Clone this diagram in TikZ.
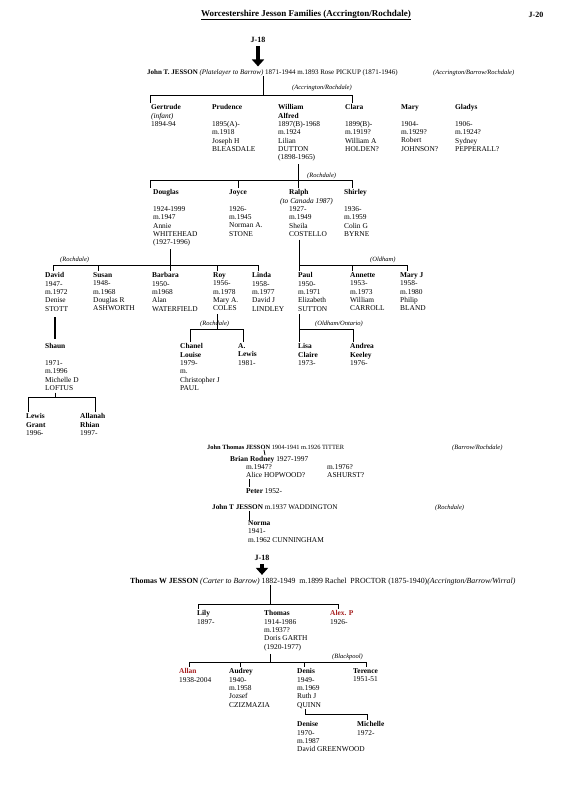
\documentclass[tikz,border=0pt]{standalone}
\usepackage{fontspec}
\setmainfont{Liberation Serif}
\usetikzlibrary{arrows.meta}
\definecolor{famred}{RGB}{165,30,30}

\begin{document}
\begin{tikzpicture}[x=1pt,y=-1pt,
  person/.style={anchor=north west,align=left,inner sep=0pt,font=\fontsize{7.4}{8.3}\selectfont},
  oneline/.style={anchor=base west,inner sep=0pt,font=\fontsize{7.4}{8.3}\selectfont},
  where/.style={anchor=base west,inner sep=0pt,font=\fontsize{6.5}{8}\selectfont\itshape},
  jref/.style={inner sep=0pt,font=\fontsize{8}{9}\selectfont\bfseries},
  tie/.style={line width=0.8pt},
  heavytie/.style={line width=1.8pt},
  bigarrow/.style={line width=4.5pt,-{Triangle[width=12pt,length=7pt]}}]
  \useasboundingbox (0,0) rectangle (567,793);
  % heading
  \node[jref,font=\fontsize{9}{10}\selectfont\bfseries] (title) at (306,15) {\underline{Worcestershire Jesson Families (Accrington/Rochdale)}};
  \node[jref] (j20) at (536,15) {J-20};
  \node[jref] (j18a) at (258,40) {J-18};
  \node[oneline,font=\fontsize{7}{8}\selectfont] (johnT) at (147,74.5)
    {\textbf{John T. JESSON} \textit{(Platelayer to Barrow)} 1871-1944 m.1893 Rose PICKUP (1871-1946)};
  \node[where] (accbr) at (433,74.5) {(Accrington/Barrow/Rochdale)};
  \draw[bigarrow] ([yshift=-3pt]j18a.south) -- ([yshift=3pt]j18a.south |- johnT.north);
  % children of John T.
  \coordinate (jn1) at (263,95);
  \node[where] (accroch) at (292,89) {(Accrington/Rochdale)};
  \node[person] (gertrude) at (151,104.5) {\textbf{Gertrude}\\\textit{(infant)}\\1894-94};
  \node[person] (prudence) at (212,104.5) {\textbf{Prudence}\\[8.3pt]1895(A)-\\m.1918\\Joseph H\\BLEASDALE};
  \node[person] (william) at (278,104.5) {\textbf{William}\\\textbf{Alfred}\\1897(B)-1968\\m.1924\\Lilian\\DUTTON\\(1898-1965)};
  \node[person] (clara) at (345,104.5) {\textbf{Clara}\\[8.3pt]1899(B)-\\m.1919?\\William A\\HOLDEN?};
  \node[person] (mary) at (401,104.5) {\textbf{Mary}\\[8.3pt]1904-\\m.1929?\\Robert\\JOHNSON?};
  \node[person] (gladys) at (455,104.5) {\textbf{Gladys}\\[8.3pt]1906-\\m.1924?\\Sydney\\PEPPERALL?};
  \draw[tie] (johnT.south -| jn1) -- (jn1);
  \draw[tie] ([xshift=-1pt,yshift=2pt]gertrude.north west) |- (jn1);
  \draw[tie] ([xshift=7pt,yshift=2pt]clara.north west) |- (jn1);
  % children of William Alfred
  \coordinate (jn2) at (298,180);
  \node[where] (roch1) at (307,177) {(Rochdale)};
  \node[person] (douglas) at (153,189.5) {\textbf{Douglas}\\[8.3pt]1924-1999\\m.1947\\Annie\\WHITEHEAD\\(1927-1996)};
  \node[person] (joyce) at (229,189.5) {\textbf{Joyce}\\[8.3pt]1926-\\m.1945\\Norman A.\\STONE};
  \node[person] (ralph) at (289,189.5) {\textbf{Ralph}\\\hspace*{-9pt}\textit{(to Canada 1987)}\\1927-\\m.1949\\Sheila\\COSTELLO};
  \node[person] (shirley) at (344,189.5) {\textbf{Shirley}\\[8.3pt]1936-\\m.1959\\Colin G\\BYRNE};
  \draw[tie] ([yshift=-3pt]william.south -| jn2) -- (jn2);
  \draw[tie] ([xshift=-3pt,yshift=2pt]douglas.north west) |- (jn2);
  \draw[tie] ([xshift=9pt,yshift=2pt]joyce.north west) |- (jn2);
  \draw[tie] ([xshift=9pt,yshift=2pt]ralph.north west) |- (jn2);
  \draw[tie] ([xshift=8pt,yshift=2pt]shirley.north west) |- (jn2);
  % children of Douglas and of Ralph
  \coordinate (jn3) at (170,265);
  \coordinate (jn4) at (299,265);
  \node[where] (roch2) at (60,261) {(Rochdale)};
  \node[where] (oldham) at (370,261) {(Oldham)};
  \node[person] (david) at (45,272.5) {\textbf{David}\\1947-\\m.1972\\Denise\\STOTT};
  \node[person] (susan) at (93,272.5) {\textbf{Susan}\\1948-\\m.1968\\Douglas R\\ASHWORTH};
  \node[person] (barbara) at (152,272.5) {\textbf{Barbara}\\1950-\\m1968\\Alan\\WATERFIELD};
  \node[person] (roy) at (213,272.5) {\textbf{Roy}\\1956-\\m.1978\\Mary A.\\COLES};
  \node[person] (linda) at (252,272.5) {\textbf{Linda}\\1958-\\m.1977\\David J\\LINDLEY};
  \node[person] (paul) at (298,272.5) {\textbf{Paul}\\1950-\\m.1971\\Elizabeth\\SUTTON};
  \node[person] (annette) at (350,272.5) {\textbf{Annette}\\1953-\\m.1973\\William\\CARROLL};
  \node[person] (maryj) at (400,272.5) {\textbf{Mary J}\\1958-\\m.1980\\Philip\\BLAND};
  \draw[tie] ([yshift=-3pt]douglas.south -| jn3) -- (jn3);
  \draw[tie] ([yshift=-3pt]ralph.south -| jn4) -- (jn4);
  \foreach \kid/\dx in {david/8,susan/5,barbara/18,roy/4,linda/6}
    \draw[tie] ([xshift=\dx pt,yshift=2pt]\kid.north west) |- (jn3);
  \foreach \kid/\dx in {paul/1,annette/2,maryj/7}
    \draw[tie] ([xshift=\dx pt,yshift=2pt]\kid.north west) |- (jn4);
  % grandchildren: Roy, Paul, David
  \coordinate (jn5) at (217,329);
  \coordinate (jn6) at (299,329);
  \node[where] (roch3) at (200,325) {(Rochdale)};
  \node[where] (oldont) at (315,325) {(Oldham/Ontario)};
  \node[person] (chanel) at (180,343.5) {\textbf{Chanel}\\\textbf{Louise}\\1979-\\m.\\Christopher J\\PAUL};
  \node[person] (alewis) at (238,343.5) {\textbf{A.}\\\textbf{Lewis}\\1981-};
  \node[person] (lisa) at (298,343.5) {\textbf{Lisa}\\\textbf{Claire}\\1973-};
  \node[person] (andrea) at (350,343.5) {\textbf{Andrea}\\\textbf{Keeley}\\1976-};
  \node[person] (shaun) at (45,343.5) {\textbf{Shaun}\\[8.3pt]1971-\\m.1996\\Michelle D\\LOFTUS};
  \draw[tie] ([yshift=-3pt]roy.south -| jn5) -- (jn5);
  \draw[tie] ([yshift=-3pt]paul.south -| jn6) -- (jn6);
  \draw[tie] ([xshift=10pt,yshift=2pt]chanel.north west) |- (jn5);
  \draw[tie] ([xshift=5pt,yshift=2pt]alewis.north west) |- (jn5);
  \draw[tie] ([xshift=1pt,yshift=2pt]lisa.north west) |- (jn6);
  \draw[tie] ([xshift=3pt,yshift=2pt]andrea.north west) |- (jn6);
  \coordinate (jn7) at (55,397);
  \draw[heavytie] ([yshift=-6pt]david.south -| jn7) -- ([yshift=5pt]shaun.north -| jn7);
  % children of Shaun
  \node[person] (lewis) at (26,413.5) {\textbf{Lewis}\\\textbf{Grant}\\1996-};
  \node[person] (allanah) at (80,413.5) {\textbf{Allanah}\\\textbf{Rhian}\\1997-};
  \draw[tie] ([yshift=-2pt]shaun.south -| jn7) -- (jn7);
  \draw[tie] ([xshift=2pt,yshift=2pt]lewis.north west) |- (jn7);
  \draw[tie] ([xshift=15pt,yshift=2pt]allanah.north west) |- (jn7);
  % John Thomas JESSON line
  \node[oneline,font=\fontsize{6.4}{8}\selectfont] (jthomas) at (207,449.5) {\textbf{John Thomas JESSON} 1904-1941 m.1926 TITTER};
  \node[where] (barroch) at (452,449.5) {(Barrow/Rochdale)};
  \node[oneline] (brian) at (230,461.5) {\textbf{Brian Rodney} 1927-1997};
  \node[person] (alice) at (246,464.5) {m.1947?\\Alice HOPWOOD?};
  \node[person] (ashurst) at (327,464.5) {m.1976?\\ASHURST?};
  \node[oneline] (peter) at (246,493.5) {\textbf{Peter} 1952-};
  \node[oneline,font=\fontsize{7.2}{8.3}\selectfont] (johntw) at (212,509.5) {\textbf{John T JESSON} m.1937 WADDINGTON};
  \node[where] (roch4) at (435,509.5) {(Rochdale)};
  \node[person] (norma) at (248,520.5) {\textbf{Norma}\\1941-\\m.1962 CUNNINGHAM};
  \draw[tie] ([xshift=57pt]jthomas.south west) -- ([xshift=35pt,yshift=1pt]brian.north west);
  \draw[tie] ([xshift=3pt,yshift=-1pt]alice.south west) -- ([xshift=3pt,yshift=1pt]peter.north west);
  \draw[tie] ([xshift=37pt,yshift=-1pt]johntw.south west) -- ([xshift=1pt,yshift=1pt]norma.north west);
  % Thomas W JESSON
  \node[jref] (j18b) at (262,558) {J-18};
  \node[oneline,font=\fontsize{7.8}{9}\selectfont] (thomasW) at (130,583.5)
    {\textbf{Thomas W JESSON} \textit{(Carter to Barrow)} 1882-1949~ m.1899 Rachel~ PROCTOR (1875-1940)\textit{(Accrington/Barrow/Wirral)}};
  \draw[bigarrow] ([yshift=-3pt]j18b.south) -- ([yshift=3pt]j18b.south |- thomasW.north);
  \coordinate (jn8) at (270,604);
  \node[person] (lily) at (197,610.5) {\textbf{Lily}\\1897-};
  \node[person] (thomas) at (264,610.5) {\textbf{Thomas}\\1914-1986\\m.1937?\\Doris GARTH\\(1920-1977)};
  \node[person] (alexp) at (330,610.5) {\textbf{\color{famred}Alex. P}\\1926-};
  \draw[tie] (thomasW.south -| jn8) -- (jn8);
  \draw[tie] ([xshift=1pt,yshift=2pt]lily.north west) |- (jn8);
  \draw[tie] ([xshift=8pt,yshift=2pt]alexp.north west) |- (jn8);
  % children of Thomas
  \coordinate (jn9) at (270,662);
  \node[where] (blackpool) at (332,658) {(Blackpool)};
  \node[person] (allan) at (179,668.5) {\textbf{\color{famred}Allan}\\1938-2004};
  \node[person] (audrey) at (229,668.5) {\textbf{Audrey}\\1940-\\m.1958\\Jozsef\\CZIZMAZIA};
  \node[person] (denis) at (297,668.5) {\textbf{Denis}\\1949-\\m.1969\\Ruth J\\QUINN};
  \node[person] (terence) at (353,668.5) {\textbf{Terence}\\1951-51};
  \draw[tie] ([yshift=-3pt]thomas.south -| jn9) -- (jn9);
  \foreach \kid/\dx in {allan/10,audrey/11,denis/7,terence/13}
    \draw[tie] ([xshift=\dx pt,yshift=2pt]\kid.north west) |- (jn9);
  % children of Denis
  \coordinate (jn10) at (305,714);
  \node[person] (denise) at (297,721.5) {\textbf{Denise}\\1970-\\m.1987\\David GREENWOOD};
  \node[person] (michelle) at (357,721.5) {\textbf{Michelle}\\1972-};
  \draw[tie] ([yshift=-1pt]denis.south -| jn10) -- (jn10);
  \draw[tie] ([xshift=10pt,yshift=2pt]michelle.north west) |- (jn10);
\end{tikzpicture}
\end{document}
